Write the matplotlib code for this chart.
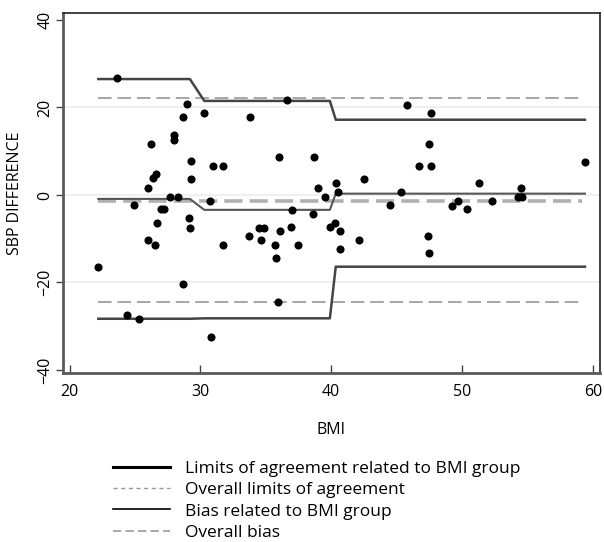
import matplotlib.pyplot as plt
from matplotlib.lines import Line2D

plt.rcParams["font.family"] = ["Open Sans", "DejaVu Sans"]

# observed points (BMI, SBP difference)
bmi = [22.2, 23.6, 24.4, 25.3, 24.9, 26.2, 26.0, 26.4, 26.6, 27.0, 27.2, 26.7,
       26.0, 26.5, 28.0, 28.0, 27.7, 28.3, 28.7, 28.7, 29.0, 29.3, 29.3, 29.1,
       29.2, 30.3, 31.0, 31.7, 30.7, 33.8, 36.6, 36.0, 38.7, 39.0, 39.5, 40.4,
       40.5, 37.0, 38.6, 31.7, 33.7, 34.5, 34.9, 34.6, 36.1, 36.9, 35.7, 35.8,
       37.5, 35.9, 30.8, 39.9, 40.3, 40.7, 40.7, 42.1, 42.5, 45.3, 44.5, 45.8,
       47.6, 47.5, 46.7, 47.6, 47.4, 47.5, 49.2, 49.7, 50.4, 51.3, 52.3, 54.5,
       54.3, 54.6, 59.4]
sbp_diff = [-16.5, 26.7, -27.4, -28.4, -2.4, 11.7, 1.6, 3.8, 4.7, -3.3, -3.3, -6.4,
            -10.4, -11.4, 13.6, 12.6, -0.5, -0.5, -20.4, 17.8, 20.7, 7.7, 3.7, -5.3,
            -7.5, 18.7, 6.6, 6.6, -1.4, 17.8, 21.7, 8.7, 8.7, 1.5, -0.4, 2.7,
            0.7, -3.4, -4.3, -11.4, -9.4, -7.5, -7.5, -10.4, -8.3, -7.4, -11.4, -14.5,
            -11.4, -24.4, -32.5, -7.3, -6.3, -8.3, -12.3, -10.4, 3.7, 0.7, -2.4, 20.6,
            18.7, 11.7, 6.6, 6.6, -9.4, -13.3, -2.5, -1.4, -3.3, 2.7, -1.3, 1.6,
            -0.4, -0.4, 7.6]

# group-specific lines
group_x = [22.2, 29.2, 30.3, 39.9, 40.35, 59.4]
upper_loa = [26.5, 26.5, 21.5, 21.5, 17.2, 17.2]
lower_loa = [-28.3, -28.3, -28.2, -28.2, -16.4, -16.4]
group_bias = [-0.9, -0.9, -3.4, -3.4, 0.3, 0.3]

# overall lines
overall_x = [22.2, 59.2]
overall_upper = 22.1
overall_lower = -24.4
overall_bias = -1.4

labels = ["Limits of agreement related to BMI group",
          "Overall limits of agreement",
          "Bias related to BMI group",
          "Overall bias"]

fig = plt.figure(figsize=(6.04, 5.42), dpi=100)
ax = fig.add_axes([63 / 604, 1 - 373 / 542, 537 / 604, 360 / 542])

for g in [-20, 0, 20]:
    ax.axhline(g, color="#ececec", lw=1.2, zorder=0)

ax.plot(overall_x, [overall_upper] * 2, color="#a6a6a6", lw=1.4, dashes=(7, 3))
ax.plot(overall_x, [overall_lower] * 2, color="#a6a6a6", lw=1.4, dashes=(7, 3))
ax.plot(overall_x, [overall_bias] * 2, color="#b0b0b0", lw=2.6, dashes=(5, 2))

ax.plot(group_x, upper_loa, color="#444444", lw=1.8)
ax.plot(group_x, lower_loa, color="#444444", lw=1.8)
ax.plot(group_x, group_bias, color="#555555", lw=1.5)

ax.scatter(bmi, sbp_diff, s=34, color="black", zorder=5, linewidths=0)

ax.set_xlim(19.5, 60.55)
ax.set_ylim(-40.7, 41.6)
ax.set_xticks([20, 30, 40, 50, 60])
ax.set_yticks([-40, -20, 0, 20, 40])
ax.tick_params(axis="y", direction="out", length=5, width=1, color="#444444",
               labelsize=11.5, labelrotation=90, pad=2)
ax.tick_params(axis="x", direction="in", length=6, width=1, color="#444444",
               labelsize=11.5, pad=8)
for lab in ax.get_yticklabels():
    lab.set_va("center")

ax.spines["left"].set_color("#5a5a5a")
ax.spines["left"].set_linewidth(2)
ax.spines["bottom"].set_color("#5a5a5a")
ax.spines["bottom"].set_linewidth(2)
ax.spines["top"].set_color("#222222")
ax.spines["top"].set_linewidth(1.2)
ax.spines["right"].set_color("#222222")
ax.spines["right"].set_linewidth(1.2)

ax.set_ylabel("SBP DIFFERENCE", fontsize=11.5, labelpad=10)
ax.set_xlabel("BMI", fontsize=11.5, labelpad=16)

handles = [
    Line2D([], [], color="black", lw=2.2),
    Line2D([], [], color="#999999", lw=1.0, dashes=(3, 2.5)),
    Line2D([], [], color="black", lw=1.2),
    Line2D([], [], color="#999999", lw=1.2, dashes=(5, 2.5)),
]
fig.legend(handles, labels, loc="upper left", bbox_to_anchor=(104 / 604, 1 - 452 / 542),
           frameon=False, fontsize=12.5, handlelength=3.3, handletextpad=0.85,
           labelspacing=0.3, borderpad=0)

fig.savefig("out.png", dpi=100)
